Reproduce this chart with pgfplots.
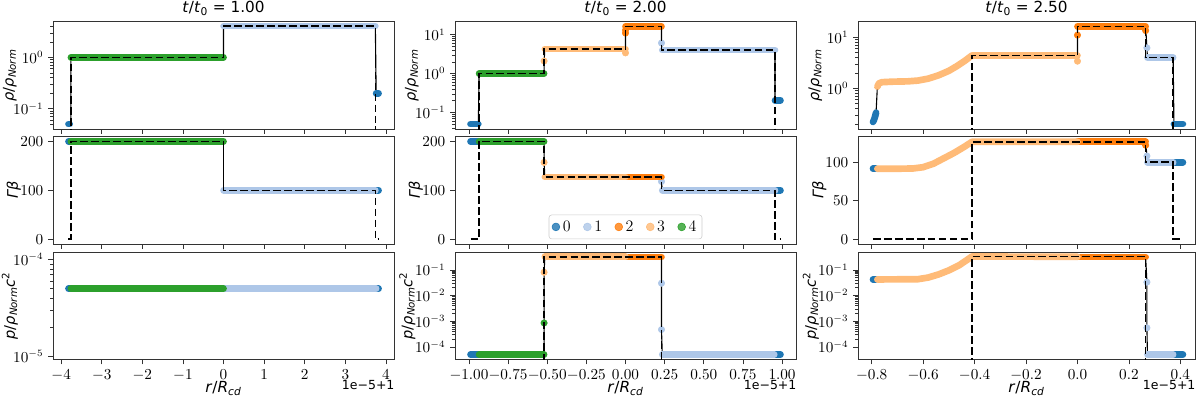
\documentclass[border=0pt]{standalone}
\usepackage{fontspec}
\usepackage{pgfplots}
\pgfplotsset{compat=1.18}
\newfontfamily\dejavu{DejaVu Sans}
\definecolor{c0}{HTML}{1F77B4}
\definecolor{c1}{HTML}{AEC7E8}
\definecolor{c2}{HTML}{FF7F0E}
\definecolor{c3}{HTML}{FFBB78}
\definecolor{c4}{HTML}{2CA02C}

\pgfplotsset{
  panel/.style={scale only axis, width=#1, height=77.4pt, anchor=north west,
    tick align=outside, tick pos=left, major tick length=3.5pt, minor tick length=2pt,
    axis line style={black!80}, every tick/.style={black!80},
    tick label style={font=\fontsize{10.5}{12}\selectfont},
    scaled ticks=false, clip mode=individual,
    ylabel style={font=\dejavu\fontsize{10.5}{12}\selectfont, at={(axis description cs:-0.127,0.5)}, anchor=center},
    xlabel style={font=\dejavu\fontsize{11}{12}\selectfont, at={(axis description cs:0.5,0)}, anchor=north, yshift=-15.5pt, inner sep=0pt},
    title style={font=\dejavu\fontsize{11}{12}\selectfont, anchor=base, yshift=0.5pt}},
  gbl/.style={ylabel style={at={(axis description cs:-0.115,0.5)}}},
  pbl/.style={ylabel style={at={(axis description cs:-0.14,0.5)}}},
  grp/.style={color=#1, line width=4.8pt, line cap=round, line join=round, forget plot},
  dot/.style={color=#1, only marks, mark=*, mark size=2.3pt, forget plot},
  num/.style={black, line width=0.8pt, forget plot},
  ana/.style={black, line width=1.1pt, dash pattern=on 5.5pt off 2.4pt, forget plot},
  legdot/.style={only marks, mark=*, mark size=2.8pt, color=#1,
    legend image code/.code={\fill[#1] (0.1cm,0cm) circle (2.8pt);}},
}
\newcommand{\rhoy}{\textit{ρ}/\textit{ρ}\textsubscript{\textit{Norm}}}
\newcommand{\gby}{\textit{Γβ}}
\newcommand{\pry}{\textit{p}/\textit{ρ}\textsubscript{\textit{Norm}}\textit{c}\textsuperscript{2}}
\newcommand{\rx}{\textit{r}/\textit{R}\textsubscript{\textit{cd}}}
\newcommand{\offs}{\node[anchor=north east, inner sep=0pt, font=\dejavu\fontsize{9}{10}\selectfont] at (rel axis cs:1,0) [yshift=-15pt, xshift=0.5pt] {1e−5+1};}

\begin{document}
\begin{tikzpicture}
\path[use as bounding box] (0,0) rectangle (864pt,-285.12pt);

% ---------------- column 1 : t/t0 = 1.00 ----------------
\begin{axis}[panel=245.5pt, at={(38.2pt,-15.5pt)}, ymode=log,
  xmin=-4.2, xmax=4.2, ymin=0.0402, ymax=4.98,
  xtick={-4,-3,-2,-1,0,1,2,3,4}, xticklabels={},
  ylabel={\rhoy}, title={\textit{t}/\textit{t}\textsubscript{0} = 1.00}]
\addplot[num] coordinates {(-3.82,0.05) (-3.76,0.05) (-3.76,1) (0,1) (0,4.05) (3.74,4.05) (3.76,0.2) (3.82,0.2)};
\addplot[grp=c0] coordinates {(-3.82,0.05) (-3.79,0.05)};
\addplot[grp=c0] coordinates {(3.76,0.2) (3.82,0.2)};
\addplot[grp=c1] coordinates {(0,4.05) (3.74,4.05)};
\addplot[grp=c4] coordinates {(-3.76,1) (0,1)};
\addplot[ana] coordinates {(-3.82,0.001) (-3.76,0.001) (-3.76,1) (0,1) (0,4.05) (3.74,4.05) (3.74,0.001) (3.82,0.001)};
\end{axis}

\begin{axis}[panel=245.5pt, gbl, at={(38.2pt,-98.3pt)},
  xmin=-4.2, xmax=4.2, ymin=-10, ymax=210,
  xtick={-4,-3,-2,-1,0,1,2,3,4}, xticklabels={}, ytick={0,100,200},
  ylabel={\gby}]
\addplot[num] coordinates {(-3.82,200) (0,200) (0,100) (3.82,100)};
\addplot[grp=c0] coordinates {(-3.82,200) (-3.79,200)};
\addplot[grp=c0] coordinates {(3.76,100) (3.82,100)};
\addplot[grp=c1] coordinates {(0,100) (3.74,100)};
\addplot[grp=c4] coordinates {(-3.76,200) (0,200)};
\addplot[ana] coordinates {(-3.82,0) (-3.76,0) (-3.76,200) (0,200) (0,100) (3.74,100) (3.74,0) (3.82,0)};
\end{axis}

\begin{axis}[panel=245.5pt, at={(38.2pt,-181.4pt)}, ymode=log,
  xmin=-4.2, xmax=4.2, ymin=9.3e-6, ymax=1.2e-4,
  xtick={-4,-3,-2,-1,0,1,2,3,4},
  xticklabel style={/pgf/number format/.cd, fixed, precision=0},
  ylabel={\pry}, xlabel={\rx}]
\addplot[grp=c0] coordinates {(-3.82,5e-5) (-3.78,5e-5)};
\addplot[grp=c0] coordinates {(3.76,5e-5) (3.82,5e-5)};
\addplot[grp=c1] coordinates {(0,5e-5) (3.76,5e-5)};
\addplot[grp=c4] coordinates {(-3.76,5e-5) (0,5e-5)};
\offs
\end{axis}

% ---------------- column 2 : t/t0 = 2.00 ----------------
\begin{axis}[panel=245.5pt, at={(327.6pt,-15.5pt)}, ymode=log,
  xmin=-1.089, xmax=1.089, ymin=0.0375, ymax=21.8,
  xtick={-1,-0.75,-0.5,-0.25,0,0.25,0.5,0.75,1}, xticklabels={},
  ylabel={\rhoy}, title={\textit{t}/\textit{t}\textsubscript{0} = 2.00}]
\addplot[num] coordinates {(-0.99,0.05) (-0.94,0.05) (-0.935,1) (-0.52,1) (-0.52,2.1) (-0.515,4.3) (0,4.3) (0,16.3) (0.23,16.3) (0.23,6.1) (0.235,4.0) (0.955,4.0) (0.955,0.205) (0.99,0.205)};
\addplot[grp=c0] coordinates {(-0.99,0.05) (-0.94,0.05)};
\addplot[grp=c0] coordinates {(0.955,0.205) (0.99,0.205)};
\addplot[grp=c1] coordinates {(0.235,4.0) (0.955,4.0)};
\addplot[dot=c1] coordinates {(0.23,6.1)};
\addplot[grp=c2] coordinates {(0,16.3) (0.23,16.3)};
\addplot[dot=c2] coordinates {(0,11) (0,13)};
\addplot[grp=c3] coordinates {(-0.515,4.3) (0,4.3)};
\addplot[dot=c3] coordinates {(-0.52,2.1) (0,3.4)};
\addplot[grp=c4] coordinates {(-0.935,1) (-0.52,1)};
\addplot[ana] coordinates {(-0.99,0.001) (-0.935,0.001) (-0.935,1) (-0.52,1) (-0.52,4.3) (0,4.3) (0,16.3) (0.23,16.3) (0.23,4.0) (0.955,4.0) (0.955,0.001) (0.99,0.001)};
\end{axis}

\begin{axis}[panel=245.5pt, gbl, at={(327.6pt,-98.3pt)},
  xmin=-1.089, xmax=1.089, ymin=-10, ymax=210,
  xtick={-1,-0.75,-0.5,-0.25,0,0.25,0.5,0.75,1}, xticklabels={}, ytick={0,100,200},
  ylabel={\gby},
  legend style={at={(0.5,0.045)}, anchor=south, legend columns=-1, draw=black!20,
    rounded corners=2pt, fill=white, fill opacity=0.8, text opacity=1,
    font=\fontsize{11.5}{12}\selectfont, inner sep=2pt,
    /tikz/every even column/.append style={column sep=7pt}}]
\addplot[num] coordinates {(-0.99,200) (-0.52,200) (-0.52,157) (-0.515,127) (0.23,127) (0.23,118) (0.235,100) (0.99,100)};
\addplot[grp=c0] coordinates {(-0.99,200) (-0.94,200)};
\addplot[grp=c0] coordinates {(0.955,100) (0.99,100)};
\addplot[grp=c1] coordinates {(0.235,100) (0.955,100)};
\addplot[dot=c1] coordinates {(0.23,118)};
\addplot[grp=c2] coordinates {(0,127) (0.23,127)};
\addplot[grp=c3] coordinates {(-0.515,127) (0,127)};
\addplot[dot=c3] coordinates {(-0.52,157)};
\addplot[grp=c4] coordinates {(-0.935,200) (-0.52,200)};
\addplot[ana] coordinates {(-0.99,0) (-0.935,0) (-0.935,200) (-0.52,200) (-0.52,127) (0.23,127) (0.23,100) (0.955,100) (0.955,0) (0.99,0)};
\addlegendimage{legdot=c0}
\addlegendimage{legdot=c1}
\addlegendimage{legdot=c2}
\addlegendimage{legdot=c3}
\addlegendimage{legdot=c4}
\legend{0,1,2,3,4}
\end{axis}

\begin{axis}[panel=245.5pt, pbl, at={(327.6pt,-181.4pt)}, ymode=log,
  xmin=-1.089, xmax=1.089, ymin=3.23e-5, ymax=0.495,
  xtick={-1,-0.75,-0.5,-0.25,0,0.25,0.5,0.75,1}, ytickten={-4,-3,-2,-1},
  xticklabel style={/pgf/number format/.cd, fixed, fixed zerofill, precision=2},
  ylabel={\pry}, xlabel={\rx}]
\addplot[num] coordinates {(-0.99,5e-5) (-0.52,5e-5) (-0.52,8.5e-4) (-0.52,0.08) (-0.515,0.32) (0,0.32) (0,0.31) (0.23,0.31) (0.23,0.03) (0.23,4.7e-4) (0.235,5e-5) (0.99,5e-5)};
\addplot[grp=c0] coordinates {(-0.99,5e-5) (-0.94,5e-5)};
\addplot[grp=c0] coordinates {(0.94,5e-5) (0.99,5e-5)};
\addplot[grp=c1] coordinates {(0.235,5e-5) (0.95,5e-5)};
\addplot[dot=c1] coordinates {(0.23,0.03) (0.23,4.7e-4)};
\addplot[grp=c2] coordinates {(0,0.31) (0.23,0.31)};
\addplot[grp=c3] coordinates {(-0.515,0.32) (0,0.32)};
\addplot[dot=c3] coordinates {(-0.52,0.08)};
\addplot[grp=c4] coordinates {(-0.935,5e-5) (-0.52,5e-5)};
\addplot[dot=c4] coordinates {(-0.52,8.5e-4)};
\addplot[ana] coordinates {(-0.99,1e-6) (-0.52,1e-6) (-0.52,0.32) (0.23,0.32) (0.23,1e-6) (0.99,1e-6)};
\offs
\end{axis}

% ---------------- column 3 : t/t0 = 2.50 ----------------
\begin{axis}[panel=242.6pt, at={(617.8pt,-15.5pt)}, ymode=log,
  xmin=-0.853, xmax=0.457, ymin=0.16, ymax=20.3,
  xtick={-0.8,-0.6,-0.4,-0.2,0,0.2,0.4}, xticklabels={},
  ylabel={\rhoy}, title={\textit{t}/\textit{t}\textsubscript{0} = 2.50}]
\addplot[num] coordinates {(-0.795,0.22) (-0.783,0.335) (-0.778,1.08) (-0.772,1.25) (-0.76,1.32) (-0.72,1.35) (-0.66,1.37) (-0.62,1.42) (-0.58,1.55) (-0.54,1.8) (-0.50,2.2) (-0.47,2.7) (-0.44,3.4) (-0.41,4.4) (0,4.4) (0,11) (0,16.3) (0.265,16.3) (0.27,6.2) (0.272,4.0) (0.372,4.0) (0.375,0.2) (0.41,0.2)};
\addplot[grp=c0] coordinates {(-0.795,0.22) (-0.792,0.235) (-0.789,0.26) (-0.786,0.29) (-0.784,0.32) (-0.783,0.335)};
\addplot[grp=c0] coordinates {(0.375,0.2) (0.41,0.2)};
\addplot[grp=c1] coordinates {(0.272,4.0) (0.372,4.0)};
\addplot[dot=c1] coordinates {(0.27,6.2)};
\addplot[grp=c2] coordinates {(0,16.3) (0.265,16.3)};
\addplot[dot=c2] coordinates {(0,11) (0.265,13.5)};
\addplot[grp=c3] coordinates {(-0.778,1.08) (-0.772,1.25) (-0.76,1.32) (-0.72,1.35) (-0.66,1.37) (-0.62,1.42) (-0.58,1.55) (-0.54,1.8) (-0.50,2.2) (-0.47,2.7) (-0.44,3.4) (-0.41,4.4) (0,4.4)};
\addplot[dot=c3] coordinates {(0,3.4)};
\addplot[ana] coordinates {(-0.795,0.01) (-0.41,0.01) (-0.41,4.4) (0,4.4) (0,16.3) (0.265,16.3) (0.265,4.0) (0.372,4.0) (0.372,0.01) (0.41,0.01)};
\end{axis}

\begin{axis}[panel=242.6pt, gbl, at={(617.8pt,-98.3pt)},
  xmin=-0.853, xmax=0.457, ymin=-6.35, ymax=133.35,
  xtick={-0.8,-0.6,-0.4,-0.2,0,0.2,0.4}, xticklabels={}, ytick={0,50,100},
  ylabel={\gby}]
\addplot[num] coordinates {(-0.795,91.5) (-0.70,91.5) (-0.64,91.8) (-0.60,93.5) (-0.56,98) (-0.52,105) (-0.48,112) (-0.44,120) (-0.41,126.5) (0.265,126.5) (0.27,108) (0.272,100) (0.41,100)};
\addplot[grp=c0] coordinates {(-0.795,91.5) (-0.785,91.5)};
\addplot[grp=c0] coordinates {(0.375,100) (0.41,100)};
\addplot[grp=c1] coordinates {(0.272,100) (0.372,100)};
\addplot[dot=c1] coordinates {(0.27,108)};
\addplot[grp=c2] coordinates {(0,126.5) (0.265,126.5)};
\addplot[dot=c2] coordinates {(0.265,122)};
\addplot[grp=c3] coordinates {(-0.778,91.5) (-0.70,91.5) (-0.64,91.8) (-0.60,93.5) (-0.56,98) (-0.52,105) (-0.48,112) (-0.44,120) (-0.41,126.5) (0,126.5)};
\addplot[ana] coordinates {(-0.795,0) (-0.41,0) (-0.41,126.5) (0.265,126.5) (0.265,100) (0.372,100) (0.372,0) (0.41,0)};
\end{axis}

\begin{axis}[panel=242.6pt, pbl, at={(617.8pt,-181.4pt)}, ymode=log,
  xmin=-0.853, xmax=0.457, ymin=3.23e-5, ymax=0.495,
  xtick={-0.8,-0.6,-0.4,-0.2,0,0.2,0.4}, ytickten={-4,-3,-2,-1},
  xticklabel style={/pgf/number format/.cd, fixed, fixed zerofill, precision=1},
  ylabel={\pry}, xlabel={\rx}]
\addplot[num] coordinates {(-0.795,0.042) (-0.62,0.043) (-0.58,0.05) (-0.54,0.066) (-0.50,0.095) (-0.46,0.15) (-0.43,0.24) (-0.41,0.33) (0,0.32) (0,0.31) (0.265,0.31) (0.27,0.033) (0.27,5.5e-4) (0.272,5e-5) (0.41,5e-5)};
\addplot[grp=c0] coordinates {(-0.795,0.042) (-0.785,0.042)};
\addplot[grp=c0] coordinates {(0.375,5e-5) (0.41,5e-5)};
\addplot[grp=c1] coordinates {(0.272,5e-5) (0.372,5e-5)};
\addplot[dot=c1] coordinates {(0.27,0.033) (0.27,5.5e-4)};
\addplot[grp=c2] coordinates {(0,0.31) (0.265,0.31)};
\addplot[grp=c3] coordinates {(-0.778,0.042) (-0.62,0.043) (-0.58,0.05) (-0.54,0.066) (-0.50,0.095) (-0.46,0.15) (-0.43,0.24) (-0.41,0.33) (0,0.32)};
\addplot[ana] coordinates {(-0.795,1e-6) (-0.41,1e-6) (-0.41,0.33) (0.265,0.33) (0.265,1e-6) (0.41,1e-6)};
\offs
\end{axis}
\end{tikzpicture}
\end{document}
